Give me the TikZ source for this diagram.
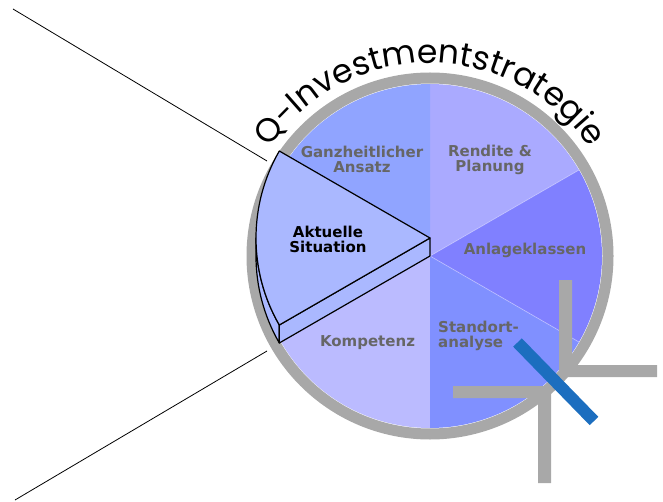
\documentclass[tikz,border=0pt]{standalone}
\usepackage{fontspec}
\setsansfont{DejaVu Sans}
\newfontfamily\titlefont{Poppins}
\usetikzlibrary{decorations.text}
\definecolor{cRen}{HTML}{AAAAFF}
\definecolor{cGan}{HTML}{90A4FF}
\definecolor{cAkt}{HTML}{AAB8FF}
\definecolor{cKom}{HTML}{BBBBFF}
\definecolor{cSta}{HTML}{8090FF}
\definecolor{cAnl}{HTML}{8080FF}
\definecolor{ringgray}{HTML}{A8A8A8}
\definecolor{labgray}{HTML}{666666}
\definecolor{barblue}{HTML}{1C6EBF}
\begin{document}
\begin{tikzpicture}[x=1pt,y=1pt,
  lab/.style={font=\sffamily\bfseries\fontsize{15}{15}\selectfont, text=labgray, inner sep=0pt, align=center},
  slice/.style={fill=cAkt, draw=black, line width=1.2pt, line join=round},
  ring/.style={draw=ringgray, line width=11pt},
  sep/.style={draw=white, draw opacity=0.35, line width=0.8pt},
  thinline/.style={draw=black, line width=0.8pt}]
\useasboundingbox (0,0) rectangle (663,501);
\coordinate (C) at (430,245);
\coordinate (A) at (430,263);
% pie slices
\fill[cRen] (C) -- ([shift={(C)}]30:172) arc[start angle=30,end angle=90,radius=172] -- cycle;
\fill[cGan] (C) -- ([shift={(C)}]90:172) arc[start angle=90,end angle=150,radius=172] -- cycle;
\fill[cAkt] (C) -- ([shift={(C)}]150:172) arc[start angle=150,end angle=210,radius=172] -- cycle;
\fill[cKom] (C) -- ([shift={(C)}]210:172) arc[start angle=210,end angle=270,radius=172] -- cycle;
\fill[cSta] (C) -- ([shift={(C)}]270:172) arc[start angle=270,end angle=330,radius=172] -- cycle;
\fill[cAnl] (C) -- ([shift={(C)}]330:172) arc[start angle=330,end angle=390,radius=172] -- cycle;
\coordinate (s30) at ([shift={(C)}]30:172);
\coordinate (s330) at ([shift={(C)}]330:172);
\path[sep] (C) -- (s30);
\path[sep] (C) -- (s330);
% ring
\path[ring] (C) circle[radius=178];
% gray L shapes
\fill[ringgray] (559,221) -- (572,221) -- (572,136) -- (657,136) -- (657,124) -- (559,124) -- cycle;
\fill[ringgray] (453,115) -- (551,115) -- (551,18) -- (538,18) -- (538,103) -- (453,103) -- cycle;
% labels
\node[lab] (ren) at (490,341.5) {Rendite \&\\Planung};
\node[lab] (gan) at (362,341.5) {Ganzheitlicher\\Ansatz};
\node[lab] (anl) at (525,251) {Anlageklassen};
\node[lab] (kom) at (367.5,158) {Kompetenz};
\node[lab, anchor=west, align=left] (sta) at (438,165) {Standort-\\analyse};
% raised slice
\filldraw[slice] ([shift={(A)}]180:174) arc[start angle=180,end angle=210,radius=174] -- ([shift={(C)}]210:174) arc[start angle=210,end angle=180,radius=174] -- cycle;
\filldraw[slice] (A) -- ([shift={(A)}]210:174) -- ([shift={(C)}]210:174) -- (C) -- cycle;
\filldraw[slice] (A) -- ([shift={(A)}]150:174) arc[start angle=150,end angle=210,radius=174] -- cycle;
\node[lab, text=black] (akt) at (328,261.5) {Aktuelle\\Situation};
% side lines
\coordinate (u1) at (13,492);
\coordinate (u2) at (267,340);
\coordinate (d1) at (267,150);
\coordinate (d2) at (15,1);
\path[thinline] (u1) -- (u2);
\path[thinline] (d1) -- (d2);
% blue bar
\coordinate (b1) at (517.5,158.5);
\coordinate (b2) at (594,80);
\draw[barblue, line width=12pt] (b1) -- (b2);
% title
\path[decorate, decoration={text along path, text align=center,
  text={|\titlefont\fontsize{33}{33}\selectfont|Q-Investmentstrategie}}]
  ([shift={(C)}]175:193) arc[start angle=175,end angle=5,radius=193];
\end{tikzpicture}
\end{document}
